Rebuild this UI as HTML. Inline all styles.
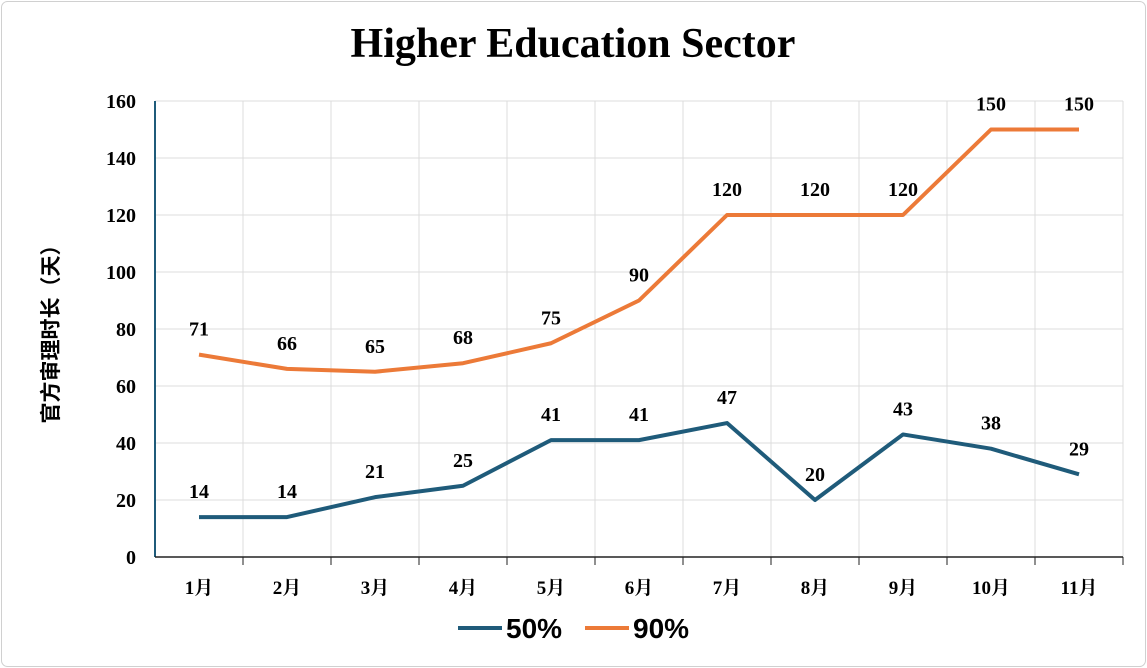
<!DOCTYPE html>
<html><head><meta charset="utf-8"><style>
body{margin:0;background:#fff;}
svg{display:block;font-family:"Liberation Serif","Noto Serif CJK SC",serif;}
</style></head><body>
<svg width="1147" height="668">
<rect x="1.5" y="1.5" width="1144" height="665" rx="6" fill="#fff" stroke="#d0d0d0"/>
<text x="573" y="57" text-anchor="middle" font-size="42" font-weight="bold">Higher Education Sector</text>
<text transform="translate(58,329) rotate(-90)" text-anchor="middle" font-size="21" font-weight="bold" font-family="Noto Sans CJK SC, sans-serif">官方审理时长（天）</text>
<g id="grid"></g><g id="axes"></g><g id="series"></g>
<g>
<line x1="458" y1="628" x2="502" y2="628" stroke="#1f5b7a" stroke-width="4"/>
<text x="506" y="638" font-size="28" font-weight="bold" font-family="Liberation Sans, sans-serif">50%</text>
<line x1="585" y1="628" x2="629" y2="628" stroke="#ec7a38" stroke-width="4"/>
<text x="633" y="638" font-size="28" font-weight="bold" font-family="Liberation Sans, sans-serif">90%</text>
</g>
</svg>
<script>
const categories=["1月","2月","3月","4月","5月","6月","7月","8月","9月","10月","11月"];
const p50=[14,14,21,25,41,41,47,20,43,38,29];
const p90=[71,66,65,68,75,90,120,120,120,150,150];
const yTicks=[0,20,40,60,80,100,120,140,160];
const NS="http://www.w3.org/2000/svg";
const L=155,R=1123,T=101,B=557,ymax=160;
const bw=(R-L)/categories.length;
const x=i=>L+bw*(i+0.5);
const y=v=>B-(v/ymax)*(B-T);
function mk(tag,a,p){const e=document.createElementNS(NS,tag);for(const k in a)e.setAttribute(k,a[k]);p.appendChild(e);return e;}
const grid=document.getElementById('grid'),axes=document.getElementById('axes'),ser=document.getElementById('series');
yTicks.forEach(t=>{
 const gl=mk('line',{x1:L,x2:R,y1:y(t),y2:y(t),stroke:'#dcdcdc','stroke-width':1},grid);
 
 
 const tx=mk('text',{x:L-19,y:y(t)+7,'text-anchor':'end','font-size':20,'font-weight':'bold'},axes);
 tx.textContent=t;
 
 
});
for(let i=1;i<=categories.length;i++){
 const gl=mk('line',{x1:L+bw*i,x2:L+bw*i,y1:T,y2:B,stroke:'#dcdcdc','stroke-width':1},grid);
 
 
}
const ya=mk('line',{x1:L,x2:L,y1:T,y2:B,stroke:'#1f5b7a','stroke-width':2},axes);


const xa=mk('line',{x1:L,x2:R,y1:B,y2:B,stroke:'#222','stroke-width':1.5},axes);


categories.forEach((c,i)=>{
 const tk=mk('line',{x1:L+bw*(i+1),x2:L+bw*(i+1),y1:B,y2:B+8,stroke:'#222'},axes);
 
 
 const tx=mk('text',{x:x(i),y:B+37,'text-anchor':'middle','font-size':19,'font-weight':'bold'},axes);
 tx.textContent=c;
 
 
});
function series(vals,color,name){
 const pl=mk('polyline',{points:vals.map((v,i)=>x(i)+','+y(v)).join(' '),fill:'none',stroke:color,'stroke-width':4,'stroke-linejoin':'round'},ser);
 
 
 vals.forEach((v,i)=>{
  const t=mk('text',{x:x(i),y:y(v)-19,'text-anchor':'middle','font-size':20,'font-weight':'bold'},ser);
  t.textContent=v;
  
  
 });
}
series(p50,'#1f5b7a','p50');
series(p90,'#ec7a38','p90');
</script>
</body></html>
